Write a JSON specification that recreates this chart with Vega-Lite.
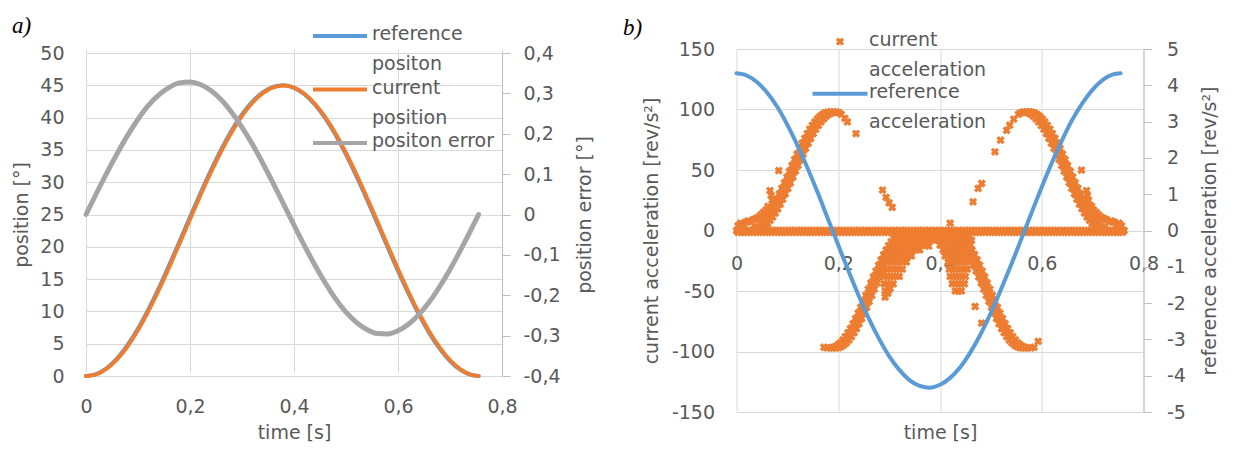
{
"$schema": "https://vega.github.io/schema/vega-lite/v6.json",
"padding": {"left": 12, "top": 15, "right": 5, "bottom": 5},
"bounds": "flush",
"spacing": 234.5,
"config": {
 "font": "DejaVu Sans",
 "view": {"stroke": null},
 "axis": {"labelFont": "DejaVu Sans", "titleFont": "DejaVu Sans", "labelFontSize": 19, "titleFontSize": 19, "labelColor": "#595959", "titleColor": "#595959", "titleFontWeight": "normal", "gridColor": "#d9d9d9", "gridWidth": 1, "domainColor": "#bfbfbf", "tickColor": "#bfbfbf", "labelFlush": false, "labelOverlap": false},
 "legend": {"labelFont": "DejaVu Sans", "labelFontSize": 19, "labelColor": "#595959", "labelLimit": 400, "padding": 0},
 "title": {"font": "Liberation Serif", "fontStyle": "italic", "fontWeight": "normal", "fontSize": 23, "color": "#000000", "anchor": "start", "frame": "group"}
},
"resolve": {"scale": {"color": "independent"}, "legend": {"color": "independent"}},
"datasets": {
 "pos": [
  {"t":0,"ref":0,"cur":0,"err":0},
  {"t":0.02,"ref":0.31,"cur":0.26,"err":0.052},
  {"t":0.04,"ref":1.24,"cur":1.14,"err":0.103},
  {"t":0.06,"ref":2.75,"cur":2.60,"err":0.151},
  {"t":0.08,"ref":4.81,"cur":4.61,"err":0.196},
  {"t":0.10,"ref":7.35,"cur":7.11,"err":0.236},
  {"t":0.12,"ref":10.32,"cur":10.05,"err":0.270},
  {"t":0.14,"ref":13.61,"cur":13.31,"err":0.296},
  {"t":0.16,"ref":17.16,"cur":16.85,"err":0.315},
  {"t":0.18,"ref":20.86,"cur":20.53,"err":0.326},
  {"t":0.20,"ref":24.60,"cur":24.27,"err":0.328},
  {"t":0.22,"ref":28.29,"cur":27.97,"err":0.322},
  {"t":0.24,"ref":31.81,"cur":31.50,"err":0.307},
  {"t":0.26,"ref":35.07,"cur":34.79,"err":0.284},
  {"t":0.28,"ref":37.99,"cur":37.74,"err":0.253},
  {"t":0.30,"ref":40.48,"cur":40.26,"err":0.216},
  {"t":0.32,"ref":42.47,"cur":42.30,"err":0.174},
  {"t":0.34,"ref":43.91,"cur":43.78,"err":0.127},
  {"t":0.36,"ref":44.76,"cur":44.68,"err":0.077},
  {"t":0.38,"ref":45.00,"cur":44.97,"err":0.026},
  {"t":0.40,"ref":44.61,"cur":44.64,"err":-0.026},
  {"t":0.42,"ref":43.61,"cur":43.69,"err":-0.077},
  {"t":0.44,"ref":42.02,"cur":42.15,"err":-0.125},
  {"t":0.46,"ref":39.90,"cur":40.07,"err":-0.169},
  {"t":0.48,"ref":37.30,"cur":37.51,"err":-0.209},
  {"t":0.50,"ref":34.28,"cur":34.52,"err":-0.242},
  {"t":0.52,"ref":30.94,"cur":31.21,"err":-0.267},
  {"t":0.54,"ref":27.38,"cur":27.67,"err":-0.285},
  {"t":0.56,"ref":23.67,"cur":23.97,"err":-0.295},
  {"t":0.58,"ref":19.93,"cur":20.23,"err":-0.296},
  {"t":0.60,"ref":16.26,"cur":16.55,"err":-0.288},
  {"t":0.62,"ref":12.77,"cur":13.04,"err":-0.272},
  {"t":0.64,"ref":9.54,"cur":9.79,"err":-0.248},
  {"t":0.66,"ref":6.67,"cur":6.89,"err":-0.217},
  {"t":0.68,"ref":4.24,"cur":4.42,"err":-0.179},
  {"t":0.70,"ref":2.32,"cur":2.46,"err":-0.136},
  {"t":0.72,"ref":0.95,"cur":1.04,"err":-0.089},
  {"t":0.74,"ref":0.18,"cur":0.22,"err":-0.039},
  {"t":0.755,"ref":0,"cur":0,"err":0}
 ],
 "racc": [
  {"t":0,"r":4.33},{"t":0.02,"r":4.27},{"t":0.04,"r":4.09},{"t":0.06,"r":3.80},{"t":0.08,"r":3.41},
  {"t":0.10,"r":2.91},{"t":0.12,"r":2.34},{"t":0.14,"r":1.71},{"t":0.16,"r":1.03},{"t":0.18,"r":0.31},
  {"t":0.20,"r":-0.40},{"t":0.22,"r":-1.11},{"t":0.24,"r":-1.79},{"t":0.26,"r":-2.42},{"t":0.28,"r":-2.98},
  {"t":0.30,"r":-3.46},{"t":0.32,"r":-3.84},{"t":0.34,"r":-4.12},{"t":0.36,"r":-4.28},{"t":0.38,"r":-4.33},
  {"t":0.40,"r":-4.25},{"t":0.42,"r":-4.06},{"t":0.44,"r":-3.76},{"t":0.46,"r":-3.35},{"t":0.48,"r":-2.85},
  {"t":0.50,"r":-2.27},{"t":0.52,"r":-1.62},{"t":0.54,"r":-0.94},{"t":0.56,"r":-0.23},{"t":0.58,"r":0.49},
  {"t":0.60,"r":1.20},{"t":0.62,"r":1.87},{"t":0.64,"r":2.49},{"t":0.66,"r":3.05},{"t":0.68,"r":3.51},
  {"t":0.70,"r":3.88},{"t":0.72,"r":4.15},{"t":0.74,"r":4.30},{"t":0.755,"r":4.33}
 ],
 "cacc": [
  {"t":0,"a":0},{"t":0.006,"a":0},{"t":0.012,"a":0},{"t":0.018,"a":0},{"t":0.024,"a":0},{"t":0.03,"a":0},{"t":0.036,"a":0},{"t":0.042,"a":0},{"t":0.048,"a":0},{"t":0.054,"a":0},
  {"t":0.06,"a":0},{"t":0.066,"a":0},{"t":0.072,"a":0},{"t":0.078,"a":0},{"t":0.084,"a":0},{"t":0.09,"a":0},{"t":0.096,"a":0},{"t":0.102,"a":0},{"t":0.108,"a":0},{"t":0.114,"a":0},
  {"t":0.12,"a":0},{"t":0.126,"a":0},{"t":0.132,"a":0},{"t":0.138,"a":0},{"t":0.144,"a":0},{"t":0.15,"a":0},{"t":0.156,"a":0},{"t":0.162,"a":0},{"t":0.168,"a":0},{"t":0.174,"a":0},
  {"t":0.18,"a":0},{"t":0.186,"a":0},{"t":0.192,"a":0},{"t":0.198,"a":0},{"t":0.204,"a":0},{"t":0.21,"a":0},{"t":0.216,"a":0},{"t":0.222,"a":0},{"t":0.228,"a":0},{"t":0.234,"a":0},
  {"t":0.24,"a":0},{"t":0.246,"a":0},{"t":0.252,"a":0},{"t":0.258,"a":0},{"t":0.264,"a":0},{"t":0.27,"a":0},{"t":0.276,"a":0},{"t":0.282,"a":0},{"t":0.288,"a":0},{"t":0.294,"a":0},
  {"t":0.3,"a":0},{"t":0.306,"a":0},{"t":0.312,"a":0},{"t":0.318,"a":0},{"t":0.324,"a":0},{"t":0.33,"a":0},{"t":0.336,"a":0},{"t":0.342,"a":0},{"t":0.348,"a":0},{"t":0.354,"a":0},
  {"t":0.36,"a":0},{"t":0.366,"a":0},{"t":0.372,"a":0},{"t":0.378,"a":0},{"t":0.384,"a":0},{"t":0.39,"a":0},{"t":0.396,"a":0},{"t":0.402,"a":0},{"t":0.408,"a":0},{"t":0.414,"a":0},
  {"t":0.42,"a":0},{"t":0.426,"a":0},{"t":0.432,"a":0},{"t":0.438,"a":0},{"t":0.444,"a":0},{"t":0.45,"a":0},{"t":0.456,"a":0},{"t":0.462,"a":0},{"t":0.468,"a":0},{"t":0.474,"a":0},
  {"t":0.48,"a":0},{"t":0.486,"a":0},{"t":0.492,"a":0},{"t":0.498,"a":0},{"t":0.504,"a":0},{"t":0.51,"a":0},{"t":0.516,"a":0},{"t":0.522,"a":0},{"t":0.528,"a":0},{"t":0.534,"a":0},
  {"t":0.54,"a":0},{"t":0.546,"a":0},{"t":0.552,"a":0},{"t":0.558,"a":0},{"t":0.564,"a":0},{"t":0.57,"a":0},{"t":0.576,"a":0},{"t":0.582,"a":0},{"t":0.588,"a":0},{"t":0.594,"a":0},
  {"t":0.6,"a":0},{"t":0.606,"a":0},{"t":0.612,"a":0},{"t":0.618,"a":0},{"t":0.624,"a":0},{"t":0.63,"a":0},{"t":0.636,"a":0},{"t":0.642,"a":0},{"t":0.648,"a":0},{"t":0.654,"a":0},
  {"t":0.66,"a":0},{"t":0.666,"a":0},{"t":0.672,"a":0},{"t":0.678,"a":0},{"t":0.684,"a":0},{"t":0.69,"a":0},{"t":0.696,"a":0},{"t":0.702,"a":0},{"t":0.708,"a":0},{"t":0.714,"a":0},
  {"t":0.72,"a":0},{"t":0.726,"a":0},{"t":0.732,"a":0},{"t":0.738,"a":0},{"t":0.744,"a":0},{"t":0.75,"a":0},{"t":0.756,"a":0},{"t":0.762,"a":0},
  {"t":0.003,"a":-1.5},{"t":0.009,"a":-1.5},{"t":0.015,"a":-1.5},{"t":0.021,"a":-1.5},{"t":0.027,"a":-1.5},{"t":0.033,"a":-1.5},{"t":0.039,"a":-1.5},{"t":0.045,"a":-1.5},{"t":0.051,"a":-1.5},{"t":0.057,"a":-1.5},
  {"t":0.063,"a":-1.5},{"t":0.069,"a":-1.5},{"t":0.075,"a":-1.5},{"t":0.081,"a":-1.5},{"t":0.087,"a":-1.5},{"t":0.093,"a":-1.5},{"t":0.099,"a":-1.5},{"t":0.105,"a":-1.5},{"t":0.111,"a":-1.5},{"t":0.117,"a":-1.5},
  {"t":0.123,"a":-1.5},{"t":0.129,"a":-1.5},{"t":0.135,"a":-1.5},{"t":0.141,"a":-1.5},{"t":0.147,"a":-1.5},{"t":0.153,"a":-1.5},{"t":0.159,"a":-1.5},{"t":0.165,"a":-1.5},{"t":0.171,"a":-1.5},{"t":0.177,"a":-1.5},
  {"t":0.183,"a":-1.5},{"t":0.189,"a":-1.5},{"t":0.195,"a":-1.5},{"t":0.201,"a":-1.5},{"t":0.207,"a":-1.5},{"t":0.213,"a":-1.5},{"t":0.219,"a":-1.5},{"t":0.225,"a":-1.5},{"t":0.231,"a":-1.5},{"t":0.237,"a":-1.5},
  {"t":0.243,"a":-1.5},{"t":0.249,"a":-1.5},{"t":0.255,"a":-1.5},{"t":0.261,"a":-1.5},{"t":0.267,"a":-1.5},{"t":0.273,"a":-1.5},{"t":0.279,"a":-1.5},{"t":0.285,"a":-1.5},{"t":0.291,"a":-1.5},{"t":0.297,"a":-1.5},
  {"t":0.303,"a":-1.5},{"t":0.309,"a":-1.5},{"t":0.315,"a":-1.5},{"t":0.321,"a":-1.5},{"t":0.327,"a":-1.5},{"t":0.333,"a":-1.5},{"t":0.339,"a":-1.5},{"t":0.345,"a":-1.5},{"t":0.351,"a":-1.5},{"t":0.357,"a":-1.5},
  {"t":0.363,"a":-1.5},{"t":0.369,"a":-1.5},{"t":0.375,"a":-1.5},{"t":0.381,"a":-1.5},{"t":0.387,"a":-1.5},{"t":0.393,"a":-1.5},{"t":0.399,"a":-1.5},{"t":0.405,"a":-1.5},{"t":0.411,"a":-1.5},{"t":0.417,"a":-1.5},
  {"t":0.423,"a":-1.5},{"t":0.429,"a":-1.5},{"t":0.435,"a":-1.5},{"t":0.441,"a":-1.5},{"t":0.447,"a":-1.5},{"t":0.453,"a":-1.5},{"t":0.459,"a":-1.5},{"t":0.465,"a":-1.5},{"t":0.471,"a":-1.5},{"t":0.477,"a":-1.5},
  {"t":0.483,"a":-1.5},{"t":0.489,"a":-1.5},{"t":0.495,"a":-1.5},{"t":0.501,"a":-1.5},{"t":0.507,"a":-1.5},{"t":0.513,"a":-1.5},{"t":0.519,"a":-1.5},{"t":0.525,"a":-1.5},{"t":0.531,"a":-1.5},{"t":0.537,"a":-1.5},
  {"t":0.543,"a":-1.5},{"t":0.549,"a":-1.5},{"t":0.555,"a":-1.5},{"t":0.561,"a":-1.5},{"t":0.567,"a":-1.5},{"t":0.573,"a":-1.5},{"t":0.579,"a":-1.5},{"t":0.585,"a":-1.5},{"t":0.591,"a":-1.5},{"t":0.597,"a":-1.5},
  {"t":0.603,"a":-1.5},{"t":0.609,"a":-1.5},{"t":0.615,"a":-1.5},{"t":0.621,"a":-1.5},{"t":0.627,"a":-1.5},{"t":0.633,"a":-1.5},{"t":0.639,"a":-1.5},{"t":0.645,"a":-1.5},{"t":0.651,"a":-1.5},{"t":0.657,"a":-1.5},
  {"t":0.663,"a":-1.5},{"t":0.669,"a":-1.5},{"t":0.675,"a":-1.5},{"t":0.681,"a":-1.5},{"t":0.687,"a":-1.5},{"t":0.693,"a":-1.5},{"t":0.699,"a":-1.5},{"t":0.705,"a":-1.5},{"t":0.711,"a":-1.5},{"t":0.717,"a":-1.5},
  {"t":0.723,"a":-1.5},{"t":0.729,"a":-1.5},{"t":0.735,"a":-1.5},{"t":0.741,"a":-1.5},{"t":0.747,"a":-1.5},{"t":0.753,"a":-1.5},{"t":0.759,"a":-1.5},
  {"t":0.034,"a":0.9},{"t":0.046,"a":0.9},{"t":0.039,"a":2.1},{"t":0.051,"a":2.1},{"t":0.044,"a":3.7},{"t":0.056,"a":3.7},{"t":0.049,"a":5.8},{"t":0.061,"a":5.8},
  {"t":0.054,"a":8.3},{"t":0.066,"a":8.3},{"t":0.059,"a":11.1},{"t":0.071,"a":11.1},{"t":0.064,"a":14.4},{"t":0.076,"a":14.4},{"t":0.069,"a":17.9},{"t":0.081,"a":17.9},
  {"t":0.074,"a":21.8},{"t":0.086,"a":21.8},{"t":0.079,"a":25.9},{"t":0.091,"a":25.9},{"t":0.084,"a":30.3},{"t":0.096,"a":30.3},{"t":0.089,"a":34.8},{"t":0.101,"a":34.8},
  {"t":0.094,"a":39.4},{"t":0.106,"a":39.4},{"t":0.099,"a":44.2},{"t":0.111,"a":44.2},{"t":0.104,"a":49},{"t":0.116,"a":49},{"t":0.109,"a":53.8},{"t":0.121,"a":53.8},
  {"t":0.114,"a":58.6},{"t":0.126,"a":58.6},{"t":0.119,"a":63.2},{"t":0.131,"a":63.2},{"t":0.124,"a":67.8},{"t":0.136,"a":67.8},{"t":0.129,"a":72.1},{"t":0.141,"a":72.1},
  {"t":0.134,"a":76.2},{"t":0.146,"a":76.2},{"t":0.139,"a":80.1},{"t":0.151,"a":80.1},{"t":0.144,"a":83.7},{"t":0.156,"a":83.7},{"t":0.149,"a":86.9},{"t":0.161,"a":86.9},
  {"t":0.154,"a":89.7},{"t":0.166,"a":89.7},{"t":0.159,"a":92.2},{"t":0.171,"a":92.2},{"t":0.164,"a":94.3},{"t":0.176,"a":94.3},{"t":0.169,"a":95.9},{"t":0.181,"a":95.9},
  {"t":0.174,"a":97.1},{"t":0.186,"a":97.1},{"t":0.179,"a":97.8},{"t":0.191,"a":97.8},{"t":0.184,"a":98},{"t":0.196,"a":98},{"t":0.201,"a":97.5},{"t":0.206,"a":96},
  {"t":0.04,"a":0.9},{"t":0.045,"a":2.1},{"t":0.05,"a":3.7},{"t":0.055,"a":5.8},{"t":0.06,"a":8.3},{"t":0.065,"a":11.1},{"t":0.07,"a":14.4},{"t":0.075,"a":17.9},
  {"t":0.08,"a":21.8},{"t":0.085,"a":25.9},{"t":0.09,"a":30.3},{"t":0.095,"a":34.8},{"t":0.1,"a":39.4},{"t":0.105,"a":44.2},{"t":0.11,"a":49},{"t":0.115,"a":53.8},
  {"t":0.12,"a":58.6},{"t":0.125,"a":63.2},{"t":0.13,"a":67.8},{"t":0.135,"a":72.1},{"t":0.14,"a":76.2},{"t":0.145,"a":80.1},{"t":0.15,"a":83.7},{"t":0.155,"a":86.9},
  {"t":0.16,"a":89.7},{"t":0.165,"a":92.2},{"t":0.17,"a":94.3},{"t":0.175,"a":95.9},{"t":0.18,"a":97.1},{"t":0.185,"a":97.8},{"t":0.19,"a":98},
  {"t":0.726,"a":0.9},{"t":0.714,"a":0.9},{"t":0.721,"a":2.1},{"t":0.709,"a":2.1},{"t":0.716,"a":3.7},{"t":0.704,"a":3.7},{"t":0.711,"a":5.8},{"t":0.699,"a":5.8},
  {"t":0.706,"a":8.3},{"t":0.694,"a":8.3},{"t":0.701,"a":11.1},{"t":0.689,"a":11.1},{"t":0.696,"a":14.4},{"t":0.684,"a":14.4},{"t":0.691,"a":17.9},{"t":0.679,"a":17.9},
  {"t":0.686,"a":21.8},{"t":0.674,"a":21.8},{"t":0.681,"a":25.9},{"t":0.669,"a":25.9},{"t":0.676,"a":30.3},{"t":0.664,"a":30.3},{"t":0.671,"a":34.8},{"t":0.659,"a":34.8},
  {"t":0.666,"a":39.4},{"t":0.654,"a":39.4},{"t":0.661,"a":44.2},{"t":0.649,"a":44.2},{"t":0.656,"a":49},{"t":0.644,"a":49},{"t":0.651,"a":53.8},{"t":0.639,"a":53.8},
  {"t":0.646,"a":58.6},{"t":0.634,"a":58.6},{"t":0.641,"a":63.2},{"t":0.629,"a":63.2},{"t":0.636,"a":67.8},{"t":0.624,"a":67.8},{"t":0.631,"a":72.1},{"t":0.619,"a":72.1},
  {"t":0.626,"a":76.2},{"t":0.614,"a":76.2},{"t":0.621,"a":80.1},{"t":0.609,"a":80.1},{"t":0.616,"a":83.7},{"t":0.604,"a":83.7},{"t":0.611,"a":86.9},{"t":0.599,"a":86.9},
  {"t":0.606,"a":89.7},{"t":0.594,"a":89.7},{"t":0.601,"a":92.2},{"t":0.589,"a":92.2},{"t":0.596,"a":94.3},{"t":0.584,"a":94.3},{"t":0.591,"a":95.9},{"t":0.579,"a":95.9},
  {"t":0.586,"a":97.1},{"t":0.574,"a":97.1},{"t":0.581,"a":97.8},{"t":0.569,"a":97.8},{"t":0.576,"a":98},{"t":0.564,"a":98},{"t":0.559,"a":97.5},{"t":0.554,"a":96},
  {"t":0.72,"a":0.9},{"t":0.715,"a":2.1},{"t":0.71,"a":3.7},{"t":0.705,"a":5.8},{"t":0.7,"a":8.3},{"t":0.695,"a":11.1},{"t":0.69,"a":14.4},{"t":0.685,"a":17.9},
  {"t":0.68,"a":21.8},{"t":0.675,"a":25.9},{"t":0.67,"a":30.3},{"t":0.665,"a":34.8},{"t":0.66,"a":39.4},{"t":0.655,"a":44.2},{"t":0.65,"a":49},{"t":0.645,"a":53.8},
  {"t":0.64,"a":58.6},{"t":0.635,"a":63.2},{"t":0.63,"a":67.8},{"t":0.625,"a":72.1},{"t":0.62,"a":76.2},{"t":0.615,"a":80.1},{"t":0.61,"a":83.7},{"t":0.605,"a":86.9},
  {"t":0.6,"a":89.7},{"t":0.595,"a":92.2},{"t":0.59,"a":94.3},{"t":0.585,"a":95.9},{"t":0.58,"a":97.1},{"t":0.575,"a":97.8},{"t":0.57,"a":98},
  {"t":0.172,"a":-96.5},{"t":0.178,"a":-97},{"t":0.184,"a":-97},{"t":0.196,"a":-97},{"t":0.189,"a":-96.7},{"t":0.201,"a":-96.7},{"t":0.194,"a":-95.9},{"t":0.206,"a":-95.9},
  {"t":0.199,"a":-94.6},{"t":0.211,"a":-94.6},{"t":0.204,"a":-92.8},{"t":0.216,"a":-92.8},{"t":0.209,"a":-90.5},{"t":0.221,"a":-90.5},{"t":0.214,"a":-87.7},{"t":0.226,"a":-87.7},
  {"t":0.219,"a":-84.5},{"t":0.231,"a":-84.5},{"t":0.224,"a":-81},{"t":0.236,"a":-81},{"t":0.229,"a":-77},{"t":0.241,"a":-77},{"t":0.234,"a":-72.8},{"t":0.246,"a":-72.8},
  {"t":0.239,"a":-68.2},{"t":0.251,"a":-68.2},{"t":0.244,"a":-63.5},{"t":0.256,"a":-63.5},{"t":0.249,"a":-58.6},{"t":0.261,"a":-58.6},{"t":0.254,"a":-53.6},{"t":0.266,"a":-53.6},
  {"t":0.259,"a":-48.5},{"t":0.271,"a":-48.5},{"t":0.264,"a":-43.4},{"t":0.276,"a":-43.4},{"t":0.269,"a":-38.4},{"t":0.281,"a":-38.4},{"t":0.274,"a":-33.5},{"t":0.286,"a":-33.5},
  {"t":0.279,"a":-28.8},{"t":0.291,"a":-28.8},{"t":0.284,"a":-24.3},{"t":0.296,"a":-24.3},{"t":0.289,"a":-20},{"t":0.301,"a":-20},{"t":0.294,"a":-16.1},{"t":0.306,"a":-16.1},
  {"t":0.299,"a":-12.5},{"t":0.311,"a":-12.5},{"t":0.304,"a":-9.3},{"t":0.316,"a":-9.3},{"t":0.309,"a":-6.5},{"t":0.321,"a":-6.5},{"t":0.314,"a":-4.2},{"t":0.326,"a":-4.2},
  {"t":0.19,"a":-97},{"t":0.195,"a":-96.7},{"t":0.2,"a":-95.9},{"t":0.205,"a":-94.6},{"t":0.21,"a":-92.8},{"t":0.215,"a":-90.5},{"t":0.22,"a":-87.7},{"t":0.225,"a":-84.5},
  {"t":0.23,"a":-81},{"t":0.235,"a":-77},{"t":0.24,"a":-72.8},{"t":0.245,"a":-68.2},{"t":0.25,"a":-63.5},{"t":0.255,"a":-58.6},{"t":0.26,"a":-53.6},{"t":0.265,"a":-48.5},
  {"t":0.27,"a":-43.4},{"t":0.275,"a":-38.4},{"t":0.28,"a":-33.5},{"t":0.285,"a":-28.8},{"t":0.29,"a":-24.3},{"t":0.295,"a":-20},{"t":0.3,"a":-16.1},{"t":0.305,"a":-12.5},
  {"t":0.31,"a":-9.3},{"t":0.315,"a":-6.5},{"t":0.32,"a":-4.2},
  {"t":0.585,"a":-96.5},{"t":0.579,"a":-97},{"t":0.573,"a":-97},{"t":0.561,"a":-97},{"t":0.568,"a":-96.7},{"t":0.556,"a":-96.7},{"t":0.563,"a":-95.9},{"t":0.551,"a":-95.9},
  {"t":0.558,"a":-94.6},{"t":0.546,"a":-94.6},{"t":0.553,"a":-92.8},{"t":0.541,"a":-92.8},{"t":0.548,"a":-90.5},{"t":0.536,"a":-90.5},{"t":0.543,"a":-87.7},{"t":0.531,"a":-87.7},
  {"t":0.538,"a":-84.5},{"t":0.526,"a":-84.5},{"t":0.533,"a":-81},{"t":0.521,"a":-81},{"t":0.528,"a":-77},{"t":0.516,"a":-77},{"t":0.523,"a":-72.8},{"t":0.511,"a":-72.8},
  {"t":0.518,"a":-68.2},{"t":0.506,"a":-68.2},{"t":0.513,"a":-63.5},{"t":0.501,"a":-63.5},{"t":0.508,"a":-58.6},{"t":0.496,"a":-58.6},{"t":0.503,"a":-53.6},{"t":0.491,"a":-53.6},
  {"t":0.498,"a":-48.5},{"t":0.486,"a":-48.5},{"t":0.493,"a":-43.4},{"t":0.481,"a":-43.4},{"t":0.488,"a":-38.4},{"t":0.476,"a":-38.4},{"t":0.483,"a":-33.5},{"t":0.471,"a":-33.5},
  {"t":0.478,"a":-28.8},{"t":0.466,"a":-28.8},{"t":0.473,"a":-24.3},{"t":0.461,"a":-24.3},{"t":0.468,"a":-20},{"t":0.456,"a":-20},{"t":0.463,"a":-16.1},{"t":0.451,"a":-16.1},
  {"t":0.458,"a":-12.5},{"t":0.446,"a":-12.5},{"t":0.453,"a":-9.3},{"t":0.441,"a":-9.3},{"t":0.448,"a":-6.5},{"t":0.436,"a":-6.5},{"t":0.443,"a":-4.2},{"t":0.431,"a":-4.2},
  {"t":0.567,"a":-97},{"t":0.562,"a":-96.7},{"t":0.557,"a":-95.9},{"t":0.552,"a":-94.6},{"t":0.547,"a":-92.8},{"t":0.542,"a":-90.5},{"t":0.537,"a":-87.7},{"t":0.532,"a":-84.5},
  {"t":0.527,"a":-81},{"t":0.522,"a":-77},{"t":0.517,"a":-72.8},{"t":0.512,"a":-68.2},{"t":0.507,"a":-63.5},{"t":0.502,"a":-58.6},{"t":0.497,"a":-53.6},{"t":0.492,"a":-48.5},
  {"t":0.487,"a":-43.4},{"t":0.482,"a":-38.4},{"t":0.477,"a":-33.5},{"t":0.472,"a":-28.8},{"t":0.467,"a":-24.3},{"t":0.462,"a":-20},{"t":0.457,"a":-16.1},{"t":0.452,"a":-12.5},
  {"t":0.447,"a":-9.3},{"t":0.442,"a":-6.5},{"t":0.437,"a":-4.2},
  {"t":0.003,"a":4},{"t":0.008,"a":6},{"t":0.013,"a":5},{"t":0.018,"a":7},{"t":0.023,"a":8},{"t":0.028,"a":7},{"t":0.033,"a":9},{"t":0.038,"a":10},{"t":0.043,"a":11},
  {"t":0.048,"a":13},{"t":0.053,"a":15},{"t":0.058,"a":17},{"t":0.062,"a":20},{"t":0.066,"a":33},{"t":0.068,"a":29},{"t":0.07,"a":25},{"t":0.072,"a":21},{"t":0.074,"a":18},
  {"t":0.083,"a":49.5},
  {"t":0.757,"a":4},{"t":0.752,"a":6},{"t":0.747,"a":5},{"t":0.742,"a":7},{"t":0.737,"a":8},{"t":0.732,"a":7},{"t":0.727,"a":9},{"t":0.722,"a":10},{"t":0.717,"a":11},
  {"t":0.712,"a":13},{"t":0.707,"a":15},{"t":0.702,"a":17},{"t":0.698,"a":20},{"t":0.688,"a":33},{"t":0.69,"a":29},{"t":0.692,"a":25},{"t":0.694,"a":21},{"t":0.696,"a":18},
  {"t":0.678,"a":49.9},
  {"t":0.213,"a":92.7},{"t":0.218,"a":89.7},{"t":0.235,"a":80.1},{"t":0.287,"a":33.4},{"t":0.294,"a":27.4},{"t":0.3,"a":22.9},{"t":0.306,"a":19.1},
  {"t":0.465,"a":23.7},{"t":0.475,"a":34.8},{"t":0.482,"a":38.9},{"t":0.508,"a":65},{"t":0.519,"a":74.6},{"t":0.531,"a":82.8},{"t":0.537,"a":87},{"t":0.545,"a":92},
  {"t":0.42,"a":6},{"t":0.292,"a":-55},{"t":0.297,"a":-52},{"t":0.302,"a":-48},{"t":0.469,"a":-62.8},{"t":0.482,"a":-76.5},{"t":0.593,"a":-91.6},{"t":0.37,"a":-11},{"t":0.378,"a":-13},
  {"t":0.318,"a":-4},{"t":0.324,"a":-4},{"t":0.33,"a":-4},{"t":0.336,"a":-4},{"t":0.342,"a":-4},{"t":0.348,"a":-4},{"t":0.354,"a":-4},{"t":0.36,"a":-4},{"t":0.366,"a":-4},{"t":0.372,"a":-4},{"t":0.378,"a":-4},{"t":0.384,"a":-4},
  {"t":0.39,"a":-4},{"t":0.396,"a":-4},{"t":0.402,"a":-4},{"t":0.408,"a":-4},{"t":0.414,"a":-4},{"t":0.42,"a":-4},{"t":0.426,"a":-4},{"t":0.432,"a":-4},{"t":0.438,"a":-4},{"t":0.444,"a":-4},{"t":0.45,"a":-4},{"t":0.456,"a":-4},
  {"t":0.312,"a":-8},{"t":0.318,"a":-8},{"t":0.324,"a":-8},{"t":0.33,"a":-8},{"t":0.336,"a":-8},{"t":0.342,"a":-8},{"t":0.348,"a":-8},{"t":0.354,"a":-8},{"t":0.36,"a":-8},{"t":0.366,"a":-8},{"t":0.372,"a":-8},{"t":0.378,"a":-8},{"t":0.384,"a":-8},
  {"t":0.39,"a":-8},{"t":0.396,"a":-8},{"t":0.402,"a":-8},{"t":0.408,"a":-8},{"t":0.414,"a":-8},{"t":0.42,"a":-8},{"t":0.426,"a":-8},{"t":0.432,"a":-8},{"t":0.438,"a":-8},{"t":0.444,"a":-8},{"t":0.45,"a":-8},{"t":0.456,"a":-8},{"t":0.462,"a":-8},
  {"t":0.306,"a":-12},{"t":0.312,"a":-12},{"t":0.318,"a":-12},{"t":0.324,"a":-12},{"t":0.33,"a":-12},{"t":0.336,"a":-12},{"t":0.342,"a":-12},{"t":0.348,"a":-12},{"t":0.354,"a":-12},{"t":0.36,"a":-12},{"t":0.366,"a":-12},{"t":0.372,"a":-12},
  {"t":0.4,"a":-12},{"t":0.406,"a":-12},{"t":0.412,"a":-12},{"t":0.418,"a":-12},{"t":0.424,"a":-12},{"t":0.43,"a":-12},{"t":0.436,"a":-12},{"t":0.442,"a":-12},{"t":0.448,"a":-12},{"t":0.454,"a":-12},{"t":0.46,"a":-12},
  {"t":0.3,"a":-16},{"t":0.306,"a":-16},{"t":0.312,"a":-16},{"t":0.318,"a":-16},{"t":0.324,"a":-16},{"t":0.33,"a":-16},{"t":0.336,"a":-16},{"t":0.342,"a":-16},{"t":0.348,"a":-16},{"t":0.354,"a":-16},{"t":0.36,"a":-16},
  {"t":0.406,"a":-16},{"t":0.412,"a":-16},{"t":0.418,"a":-16},{"t":0.424,"a":-16},{"t":0.43,"a":-16},{"t":0.436,"a":-16},{"t":0.442,"a":-16},{"t":0.448,"a":-16},{"t":0.454,"a":-16},{"t":0.46,"a":-16},
  {"t":0.296,"a":-21},{"t":0.302,"a":-21},{"t":0.308,"a":-21},{"t":0.314,"a":-21},{"t":0.32,"a":-21},{"t":0.326,"a":-21},{"t":0.332,"a":-21},{"t":0.338,"a":-21},{"t":0.344,"a":-21},
  {"t":0.41,"a":-21},{"t":0.416,"a":-21},{"t":0.422,"a":-21},{"t":0.428,"a":-21},{"t":0.434,"a":-21},{"t":0.44,"a":-21},{"t":0.446,"a":-21},{"t":0.452,"a":-21},{"t":0.458,"a":-21},
  {"t":0.292,"a":-26},{"t":0.298,"a":-26},{"t":0.304,"a":-26},{"t":0.31,"a":-26},{"t":0.316,"a":-26},{"t":0.322,"a":-26},{"t":0.328,"a":-26},{"t":0.334,"a":-26},
  {"t":0.416,"a":-26},{"t":0.422,"a":-26},{"t":0.428,"a":-26},{"t":0.434,"a":-26},{"t":0.44,"a":-26},{"t":0.446,"a":-26},{"t":0.452,"a":-26},{"t":0.458,"a":-26},
  {"t":0.29,"a":-32},{"t":0.296,"a":-32},{"t":0.302,"a":-32},{"t":0.308,"a":-32},{"t":0.314,"a":-32},{"t":0.32,"a":-32},{"t":0.326,"a":-32},
  {"t":0.418,"a":-32},{"t":0.424,"a":-32},{"t":0.43,"a":-32},{"t":0.436,"a":-32},{"t":0.442,"a":-32},{"t":0.448,"a":-32},{"t":0.454,"a":-32},
  {"t":0.29,"a":-38},{"t":0.296,"a":-38},{"t":0.302,"a":-38},{"t":0.308,"a":-38},{"t":0.314,"a":-38},{"t":0.32,"a":-38},
  {"t":0.42,"a":-38},{"t":0.426,"a":-38},{"t":0.432,"a":-38},{"t":0.438,"a":-38},{"t":0.444,"a":-38},{"t":0.45,"a":-38},
  {"t":0.29,"a":-44},{"t":0.296,"a":-44},{"t":0.302,"a":-44},{"t":0.308,"a":-44},
  {"t":0.424,"a":-44},{"t":0.43,"a":-44},{"t":0.436,"a":-44},{"t":0.442,"a":-44},{"t":0.448,"a":-44},
  {"t":0.292,"a":-50},{"t":0.298,"a":-50},{"t":0.43,"a":-50},{"t":0.436,"a":-50},{"t":0.442,"a":-50}
 ]
},
"hconcat": [
 {
  "width": 416, "height": 327,
  "title": {"text": "a)", "dx": -74, "dy": 18},
  "layer": [
   {
    "layer": [
     {
      "data": {"name": "pos"},
      "mark": {"type": "line", "strokeWidth": 4, "interpolate": "monotone", "strokeCap": "round"},
      "encoding": {
       "x": {"field": "t", "type": "quantitative", "scale": {"domain": [0, 0.8], "nice": false},
             "axis": {"values": [0, 0.2, 0.4, 0.6, 0.8], "labelExpr": "replace(datum.value + '', '.', ',')", "title": "time [s]", "grid": true, "ticks": false, "domain": false, "labelPadding": 21, "titlePadding": 7}},
       "y": {"field": "ref", "type": "quantitative", "scale": {"domain": [0, 50], "nice": false, "range": [327, 4]},
             "axis": {"values": [0, 5, 10, 15, 20, 25, 30, 35, 40, 45, 50], "title": "position [°]", "grid": true, "ticks": false, "domain": false, "labelPadding": 22, "titlePadding": 8}},
       "color": {"datum": "reference positon", "type": "nominal",
                 "scale": {"domain": ["reference positon", "current position", "positon error"], "range": ["#5b9bd5", "#ed7d31", "#a5a5a5"]},
                 "legend": {"orient": "none", "legendX": 242, "legendY": -25, "title": null, "symbolType": "M-2.7,0H2.7", "symbolSize": 400, "symbolStrokeWidth": 4, "labelOffset": 20, "rowPadding": 3.5, "labelBaseline": "top",
                            "labelExpr": "datum.label == 'reference positon' ? ['reference', 'positon'] : datum.label == 'current position' ? ['current', 'position'] : datum.label",
                            "encode": {"labels": {"update": {"lineHeight": {"value": 30}, "dy": {"value": -11}}}}}}
      }
     },
     {
      "data": {"name": "pos"},
      "mark": {"type": "line", "strokeWidth": 4, "interpolate": "monotone", "strokeCap": "round"},
      "encoding": {
       "x": {"field": "t", "type": "quantitative"},
       "y": {"field": "cur", "type": "quantitative", "scale": {"domain": [0, 50], "nice": false, "range": [327, 4]},
             "axis": {"values": [0, 5, 10, 15, 20, 25, 30, 35, 40, 45, 50], "title": "position [°]", "grid": true, "ticks": false, "domain": false, "labelPadding": 22, "titlePadding": 8}},
       "color": {"datum": "current position", "type": "nominal"}
      }
     }
    ]
   },
   {
    "data": {"name": "pos"},
    "mark": {"type": "line", "strokeWidth": 5, "interpolate": "monotone", "strokeCap": "round"},
    "encoding": {
     "x": {"field": "t", "type": "quantitative"},
     "y": {"field": "err", "type": "quantitative", "scale": {"domain": [-0.4, 0.4], "nice": false, "range": [327, 4]},
           "axis": {"orient": "right", "values": [-0.4, -0.3, -0.2, -0.1, 0, 0.1, 0.2, 0.3, 0.4], "labelExpr": "replace(datum.value + '', '.', ',')", "title": "position error [°]", "titleAngle": 270, "titleBaseline": "top", "grid": false, "ticks": true, "tickSize": 8, "domain": true, "labelPadding": 13, "titlePadding": 15.5}},
     "color": {"datum": "positon error", "type": "nominal"}
    }
   }
  ],
  "resolve": {"scale": {"y": "independent"}}
 },
 {
  "width": 407, "height": 363,
  "title": {"text": "b)", "dx": -113.5, "dy": 11.8},
  "layer": [
   {
    "data": {"name": "cacc"},
    "mark": {"type": "point", "shape": "cross", "angle": 45, "filled": true, "size": 70, "opacity": 1},
    "encoding": {
     "x": {"field": "t", "type": "quantitative", "scale": {"domain": [0, 0.8], "nice": false},
           "axis": {"values": [0, 0.2, 0.4, 0.6, 0.8], "labelExpr": "replace(datum.value + '', '.', ',')", "title": "time [s]", "grid": true, "ticks": false, "domain": false, "offset": -181.5, "labelPadding": 24, "titlePadding": 150}},
     "y": {"field": "a", "type": "quantitative", "scale": {"domain": [-150, 150], "nice": false},
           "axis": {"values": [-150, -100, -50, 0, 50, 100, 150], "labelExpr": "datum.value + ''", "title": "current acceleration [rev/s²]", "grid": true, "ticks": false, "domain": false, "labelPadding": 22, "titlePadding": 10}},
     "color": {"datum": "current acceleration", "type": "nominal",
               "scale": {"domain": ["current acceleration", "reference acceleration"], "range": ["#ed7d31", "#5b9bd5"]},
               "legend": {"orient": "none", "legendX": 94, "legendY": -16.8, "title": null, "symbolType": "M-2.75,0H2.75", "symbolSize": 400, "symbolStrokeWidth": 4, "labelOffset": 19.5, "rowPadding": 2, "labelBaseline": "top",
                          "labelExpr": "datum.label == 'current acceleration' ? ['current', 'acceleration'] : ['reference', 'acceleration']",
                          "encode": {"labels": {"update": {"lineHeight": {"value": 30}, "dy": {"value": -11}}},
                                     "symbols": {"update": {
                                        "shape": {"signal": "datum.value == 'current acceleration' ? 'cross' : 'M-2.75,0H2.75'"},
                                        "angle": {"signal": "datum.value == 'current acceleration' ? 45 : 0"},
                                        "size": {"signal": "datum.value == 'current acceleration' ? 70 : 400"},
                                        "fill": {"signal": "datum.value == 'current acceleration' ? '#ed7d31' : 'transparent'"},
                                        "stroke": {"signal": "datum.value == 'current acceleration' ? 'transparent' : '#5b9bd5'"},
                                        "strokeWidth": {"signal": "datum.value == 'current acceleration' ? 0 : 4"},
                                        "opacity": {"value": 1}}}}}}
    }
   },
   {
    "data": {"name": "racc"},
    "mark": {"type": "line", "strokeWidth": 4, "interpolate": "monotone", "strokeCap": "round"},
    "encoding": {
     "x": {"field": "t", "type": "quantitative"},
     "y": {"field": "r", "type": "quantitative", "scale": {"domain": [-5, 5], "nice": false},
           "axis": {"orient": "right", "values": [-5, -4, -3, -2, -1, 0, 1, 2, 3, 4, 5], "labelExpr": "datum.value + ''", "title": "reference acceleration [rev/s²]", "titleAngle": 270, "titleBaseline": "top", "grid": false, "ticks": true, "tickSize": 8, "domain": true, "labelPadding": 15, "titlePadding": 15}},
     "color": {"datum": "reference acceleration", "type": "nominal",
               "legend": {"orient": "none", "legendX": 94, "legendY": -16.8, "title": null, "symbolType": "M-2.75,0H2.75", "symbolSize": 400, "symbolStrokeWidth": 4, "labelOffset": 19.5, "rowPadding": 2, "labelBaseline": "top",
                          "labelExpr": "datum.label == 'current acceleration' ? ['current', 'acceleration'] : ['reference', 'acceleration']",
                          "encode": {"labels": {"update": {"lineHeight": {"value": 30}, "dy": {"value": -11}}},
                                     "symbols": {"update": {
                                        "shape": {"signal": "datum.value == 'current acceleration' ? 'cross' : 'M-2.75,0H2.75'"},
                                        "angle": {"signal": "datum.value == 'current acceleration' ? 45 : 0"},
                                        "size": {"signal": "datum.value == 'current acceleration' ? 70 : 400"},
                                        "fill": {"signal": "datum.value == 'current acceleration' ? '#ed7d31' : 'transparent'"},
                                        "stroke": {"signal": "datum.value == 'current acceleration' ? 'transparent' : '#5b9bd5'"},
                                        "strokeWidth": {"signal": "datum.value == 'current acceleration' ? 0 : 4"},
                                        "opacity": {"value": 1}}}}}}
    }
   }
  ],
  "resolve": {"scale": {"y": "independent"}}
 }
]
}
